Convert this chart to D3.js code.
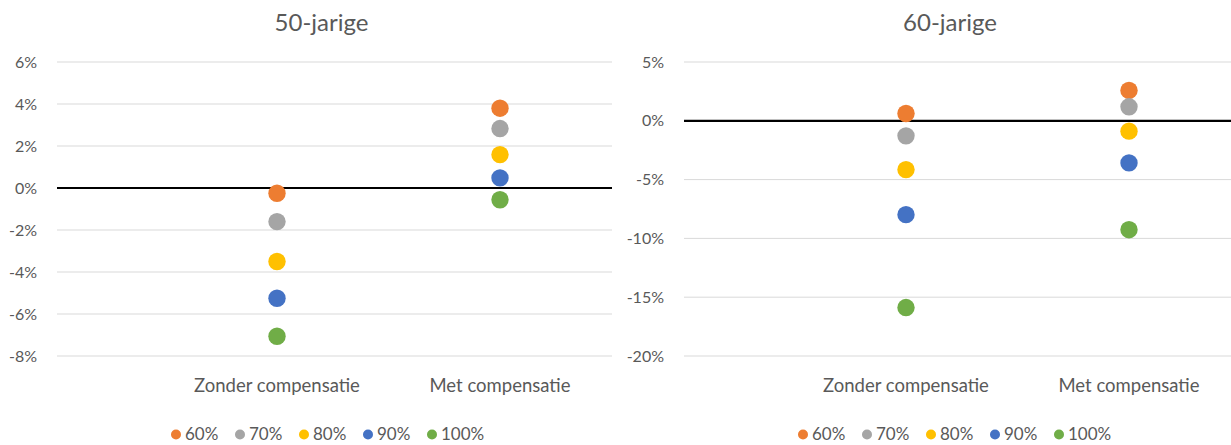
<!DOCTYPE html>
<html>
<head>
<meta charset="utf-8">
<script src="https://cdn.jsdelivr.net/npm/d3@7"></script>
<style>
  body { margin: 0; background: #fff; }
  svg { font-family: Lato, "Open Sans", sans-serif; }
</style>
</head>
<body>
<script>
const width = 1231;
const height = 445;

// data
const categories = ["Zonder compensatie", "Met compensatie"];
const seriesNames = ["60%", "70%", "80%", "90%", "100%"];
const colors = ["#ED7D31", "#A5A5A5", "#FFC000", "#4472C4", "#70AD47"];

// values in %, per series: [zonder, met]
const values50 = [
  [-0.25, 3.8],
  [-1.6, 2.83],
  [-3.5, 1.59],
  [-5.25, 0.48],
  [-7.06, -0.56]
];
const values60 = [
  [0.62, 2.58],
  [-1.28, 1.19],
  [-4.15, -0.88],
  [-7.98, -3.58],
  [-15.88, -9.26]
];
const ticks50 = [-8, -6, -4, -2, 0, 2, 4, 6];
const ticks60 = [-20, -15, -10, -5, 0, 5];

const svg = d3.select("body").append("svg")
    .attr("width", width)
    .attr("height", height);

function drawPanel(opts) {
  const g = svg.append("g");

  const y = d3.scaleLinear()
      .domain(d3.extent(opts.ticks))
      .range([356, 62]);

  // two categories, bands of ~223px ending at the right edge of the plot
  const x = d3.scaleBand()
      .domain(categories)
      .range([opts.right - 2 * 223, opts.right]);

  // title
  g.append("text")
      .attr("x", opts.titleX)
      .attr("y", 31)
      .attr("text-anchor", "middle")
      .attr("fill", "#595959")
      .style("font-size", "24px")
      .text(opts.title);

  // gridlines
  g.selectAll("line.grid")
    .data(opts.ticks.filter(d => d !== 0))
    .enter()
    .append("line")
      .attr("class", "grid")
      .attr("x1", opts.left)
      .attr("x2", opts.gridRight)
      .attr("y1", d => y(d))
      .attr("y2", d => y(d))
      .attr("stroke", "#d9d9d9")
      .attr("stroke-width", 1);

  // y tick labels
  g.selectAll("text.ytick")
    .data(opts.ticks)
    .enter()
    .append("text")
      .attr("class", "ytick")
      .attr("x", opts.left - 20)
      .attr("y", d => y(d) + 5.5)
      .attr("text-anchor", "end")
      .attr("fill", "#595959")
      .style("font-size", "16px")
      .text(d => d + "%");

  // zero line
  g.append("line")
      .attr("x1", opts.left)
      .attr("x2", opts.gridRight)
      .attr("y1", y(0))
      .attr("y2", y(0))
      .attr("stroke", "#000")
      .attr("stroke-width", 2.2);

  // category labels
  g.selectAll("text.cat")
    .data(categories)
    .enter()
    .append("text")
      .attr("class", "cat")
      .attr("x", d => x(d) + x.bandwidth() / 2)
      .attr("y", 392)
      .attr("text-anchor", "middle")
      .attr("fill", "#595959")
      .style("font-size", "18.5px")
      .text(d => d);

  // dots
  opts.values.forEach((row, si) => {
    g.selectAll("circle.s" + si)
      .data(row)
      .enter()
      .append("circle")
        .attr("class", "s" + si)
        .attr("cx", (d, i) => x(categories[i]) + x.bandwidth() / 2)
        .attr("cy", d => y(d))
        .attr("r", 8.7)
        .attr("fill", colors[si]);
  });

  // legend
  const leg = g.selectAll("g.leg")
    .data(seriesNames)
    .enter()
    .append("g")
      .attr("class", "leg")
      .attr("transform", (d, i) => "translate(" + (opts.legendX + i * 64) + ",440)");
  leg.append("circle")
      .attr("r", 5)
      .attr("cy", -5.5)
      .attr("fill", (d, i) => colors[i]);
  leg.append("text")
      .attr("x", 9)
      .attr("fill", "#595959")
      .style("font-size", "17px")
      .text(d => d);
}

drawPanel({
  title: "50-jarige", titleX: 321.5, values: values50, ticks: ticks50,
  left: 57, gridRight: 612, right: 611.5, legendX: 176
});
drawPanel({
  title: "60-jarige", titleX: 950, values: values60, ticks: ticks60,
  left: 684, gridRight: 1231, right: 1240.5, legendX: 803
});
</script>
</body>
</html>
